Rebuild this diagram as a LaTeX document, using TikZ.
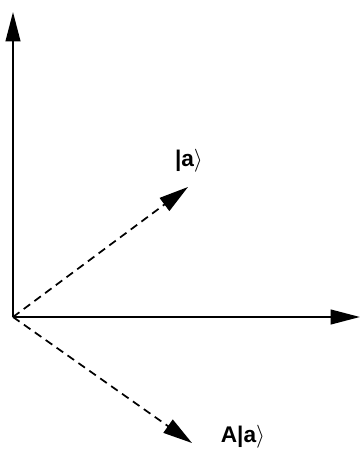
\documentclass[tikz,border=0pt]{standalone}
\usepackage{fontspec}
\setmainfont{Liberation Sans}
\usetikzlibrary{arrows.meta}
\begin{document}
\begin{tikzpicture}[x=0.75pt,y=-0.75pt,
  axis/.style={line width=1.5pt,-{Triangle[length=22pt,width=11pt]}},
  vec/.style={line width=1.3pt,dash pattern=on 6pt off 4pt,-{Triangle[length=22pt,width=12pt]}},
  lbl/.style={font=\fontsize{17}{20}\selectfont\bfseries,inner sep=0pt}]
\useasboundingbox (0,0) rectangle (360,461);
\coordinate (o) at (13,317);
\coordinate (ytop) at (13,12);
\coordinate (xend) at (360,317);
\coordinate (a) at (188,187);
\coordinate (Aa) at (192,443);
\draw[axis] (o) -- (ytop);
\draw[axis] (o) -- (xend);
\draw[vec] (o) -- (a);
\draw[vec] (o) -- (Aa);
\node[lbl] (la) at (189,161) {|a$\rangle$};
\node[lbl] (lAa) at (243,437) {A|a$\rangle$};
\end{tikzpicture}
\end{document}
